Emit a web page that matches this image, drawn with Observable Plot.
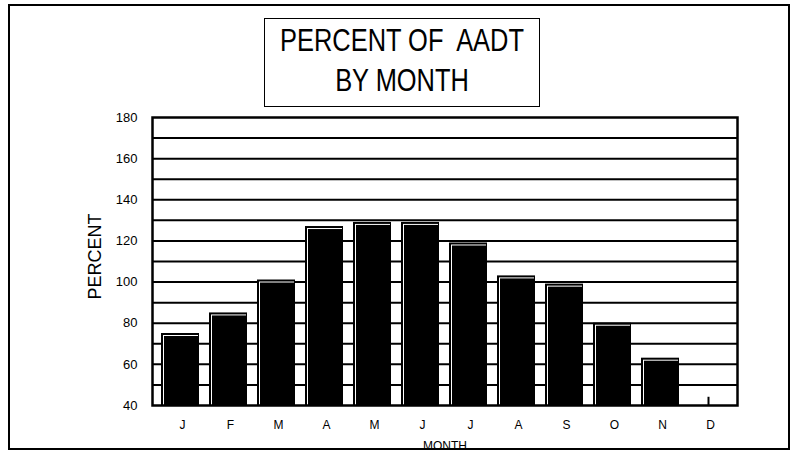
<!DOCTYPE html>
<html>
<head>
<meta charset="utf-8">
<script src="https://cdn.jsdelivr.net/npm/d3@7"></script>
<script src="https://cdn.jsdelivr.net/npm/@observablehq/plot@0.6"></script>
<style>
  body { margin: 0; background: #fff; }
  #wrap { position: relative; width: 798px; height: 451px; font-family: "Liberation Sans", Arial, sans-serif; overflow: hidden; }
  #outer { position: absolute; left: 8px; top: 4px; width: 782px; height: 446px; border: 2px solid #000; box-sizing: border-box; pointer-events: none; }
  #titlebox { position: absolute; left: 264px; top: 18px; width: 276px; height: 89px; border: 1.5px solid #000; box-sizing: border-box; background: #fff; padding-top: 2px; }
  #titlebox div { position: relative; left: -60px; width: calc(100% + 120px); font-size: 31px; line-height: 40px; text-align: center; white-space: pre; color: #000; transform: scaleX(0.82); transform-origin: 50% 50%; }
  svg { display: block; }
</style>
</head>
<body>
<div id="wrap">
  <div id="chart"></div>
  <div id="titlebox"><div>PERCENT OF  AADT</div><div>BY MONTH</div></div>
  <div id="outer"></div>
</div>
<script>
const monthKeys = ["Jan","Feb","Mar","Apr","May","Jun","Jul","Aug","Sep","Oct","Nov","Dec"];
const monthLabels = ["J","F","M","A","M","J","J","A","S","O","N","D"];
const percentValues = [75, 85, 101, 127, 129, 129, 119, 103, 99, 80, 63, 44];
const yTicks = [40, 60, 80, 100, 120, 140, 160, 180];
const gridValues = [50, 60, 70, 80, 90, 100, 110, 120, 130, 140, 150, 160, 170];
const yDomain = [40, 180];
const yLabel = "PERCENT";
const xLabel = "MONTH";

const data = monthKeys.map((k, i) => ({month: k, label: monthLabels[i], value: percentValues[i]}));
const barData = data.filter(d => d.month !== "Dec");
const stubData = data.filter(d => d.month === "Dec");
const labelOf = new Map(data.map(d => [d.month, d.label]));

const chart = Plot.plot({
  width: 798,
  height: 451,
  marginLeft: 152,
  marginRight: 61,
  marginTop: 117,
  marginBottom: 46,
  style: {fontFamily: "Liberation Sans, Arial, sans-serif", background: "white", color: "black"},
  x: {type: "band", domain: monthKeys, paddingInner: 0.2, paddingOuter: 0.1},
  y: {domain: yDomain},
  marks: [
    Plot.ruleY(gridValues, {stroke: "black", strokeWidth: 2}),
    Plot.barY(barData, {x: "month", y1: yDomain[0], y2: "value", fill: "black"}),
    Plot.barY(barData, {x: "month", y1: yDomain[0], y2: "value", fill: "white", insetLeft: 2, insetTop: 2, insetRight: 1}),
    Plot.barY(barData, {x: "month", y1: yDomain[0], y2: "value", fill: "black", insetLeft: 3, insetTop: 3}),
    Plot.ruleX(stubData, {x: "month", y1: yDomain[0], y2: "value", stroke: "black", strokeWidth: 2}),
    Plot.frame({stroke: "black", strokeWidth: 2.5}),
    Plot.axisY(yTicks, {tickSize: 0, tickPadding: 15, fontSize: 13, label: null}),
    Plot.axisX(monthKeys, {tickSize: 0, tickPadding: 15, fontSize: 12, label: null, dx: 2, tickFormat: d => labelOf.get(d)}),
    Plot.text([yLabel], {frameAnchor: "left", dx: -57, dy: 38, rotate: -90, fontSize: 18, text: d => d}),
    Plot.text([xLabel], {frameAnchor: "bottom", dy: 44, fontSize: 12, text: d => d})
  ]
});
document.getElementById("chart").appendChild(chart);
</script>
</body>
</html>
